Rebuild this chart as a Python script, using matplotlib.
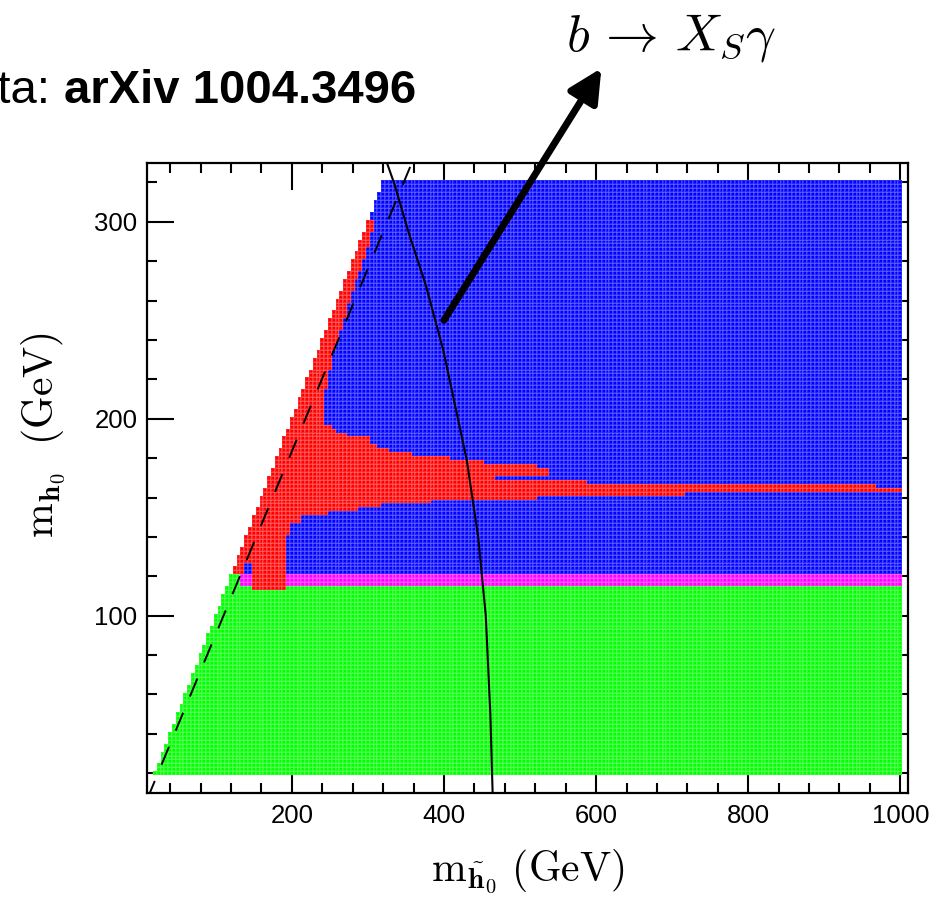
import numpy as np
import matplotlib
matplotlib.use("Agg")
import matplotlib.pyplot as plt
from matplotlib.colors import ListedColormap
from matplotlib.path import Path
from matplotlib.ticker import MultipleLocator

plt.rcParams["mathtext.fontset"] = "cm"
plt.rcParams["font.family"] = ["Liberation Sans", "DejaVu Sans"]

# ---------------- data ----------------
# scan points (GeV)
x_scan = np.arange(20, 1001, 5)
y_scan = np.arange(20, 321, 2)

# horizontal limits of the bands
lep_bound = 115      # green below this
magenta_top = 121    # magenta between lep_bound and this
green_left_x = 133   # green reaches magenta_top left of this

# outline of the red region (m_htilde, m_h)
red_x = [100, 137.5, 137.5, 147.5, 147.5, 191, 191, 196, 196, 212, 212, 248,
         248, 287, 287, 318, 318, 382, 382, 523, 523, 717, 717, 1005, 1005,
         967, 967, 587, 587, 468, 468, 538, 538, 521, 521, 452, 452, 408, 408,
         358, 358, 326, 308, 300, 275, 262, 249, 240, 240, 247, 251, 255.5,
         263, 271, 277.6, 286.4, 293, 299.6, 304, 309, 280]
red_y = [121, 121, 127, 127, 113, 113, 141, 141, 147, 147, 151, 151,
         153, 153, 155, 155, 157, 157, 159, 159, 161, 161, 163, 163, 165,
         165, 167, 167, 169, 169, 171, 171, 175, 175, 177, 177, 179, 179, 181,
         181, 183, 184, 186.6, 190, 191.6, 193.3, 196.7, 199, 211, 217.8, 228,
         235.5, 242, 253.3, 261.7, 271.8, 278.6, 287, 293.8, 301, 301]

# b -> X_S gamma contour
bsg_x = [325, 335, 354, 376, 399, 430, 445, 455, 461, 464]
bsg_y = [330, 319, 294, 268, 235, 179, 140, 100, 50, 10]

# dashed line
dash_x = [10, 360]
dash_y = [7, 332]

# arrow (tail, head) in data units
arrow_tail = (400, 250)
arrow_head = (607, 378)

# ---------------- regions on the scan grid ----------------
X, Y = np.meshgrid(x_scan, y_scan)
region = np.zeros(X.shape)                      # 0 = blue
region[Y < lep_bound] = 1                       # green
region[(Y >= lep_bound) & (Y < magenta_top)] = 2  # magenta
region[(Y < magenta_top) & (X < green_left_x)] = 1
red_path = Path(np.column_stack([red_x, red_y]))
inside = red_path.contains_points(np.column_stack([X.ravel(), Y.ravel()]))
region[inside.reshape(X.shape)] = 3             # red
outside = Y > X
region = np.ma.masked_where(outside, region)

cmap = ListedColormap(["#0000ff", "#00ff00", "#ff00ff", "#ff0000"])

# faint white seams only on the scanned cells
seams = np.zeros((outside.size, 4))
seams[:, :3] = 1
seams[:, 3] = np.where(outside.ravel(), 0, 0.15)

# ---------------- figure ----------------
fig = plt.figure(figsize=(9.36, 9.01), dpi=100)
ax = fig.add_axes([0.1574, 0.1199, 0.8126, 0.6995])

mesh = ax.pcolormesh(x_scan, y_scan, region, cmap=cmap, vmin=-0.5, vmax=3.5,
                     shading="nearest", linewidth=0.25)
mesh.set_edgecolor(seams)

ax.plot(dash_x, dash_y, color="black", lw=1.4, dashes=(10, 9))
ax.plot(bsg_x, bsg_y, color="black", lw=1.5)

ax.annotate("", xy=arrow_head, xytext=arrow_tail, annotation_clip=False,
            arrowprops=dict(arrowstyle="-|>,head_length=1.0,head_width=0.5",
                            lw=5, color="black", mutation_scale=20,
                            shrinkA=0, shrinkB=0))

ax.set_xlim(10, 1010)
ax.set_ylim(10, 330)
ax.set_xticks([200, 400, 600, 800, 1000])
ax.set_yticks([100, 200, 300])
ax.xaxis.set_minor_locator(MultipleLocator(40))
ax.yaxis.set_minor_locator(MultipleLocator(20))
ax.set_axisbelow(True)
ax.tick_params(which="both", direction="in", top=True, right=True, width=1.5)
ax.tick_params(which="major", length=19.5, labelsize=18.5)
ax.tick_params(which="minor", length=7)
ax.tick_params(axis="x", which="major", pad=8)
ax.tick_params(axis="y", which="major", pad=7)
for sp in ax.spines.values():
    sp.set_linewidth(1.6)

ax.set_xlabel(r"$\mathrm{m}_{\tilde{\mathbf{h}}_{\mathbf{0}}}\ \mathrm{(GeV)}$", fontsize=30)
ax.xaxis.set_label_coords(0.5, -0.088)
ax.set_ylabel(r"$\mathrm{m}_{\mathbf{h}_{\mathbf{0}}}\ \ \mathrm{(GeV)}$", fontsize=30)
ax.yaxis.set_label_coords(-0.104, 0.568)

fig.text(671 / 936, 1 - 50 / 901, r"$b\,\rightarrow\,X_S\gamma$", fontsize=38,
         ha="center", va="baseline")
fig.text(50 / 936, 1 - 103 / 901, "Data:", fontsize=34, ha="right", va="baseline")
fig.text(64 / 936, 1 - 103 / 901, "arXiv 1004.3496", fontsize=34,
         fontweight="bold", ha="left", va="baseline")

fig.savefig("out.png", dpi=100)
